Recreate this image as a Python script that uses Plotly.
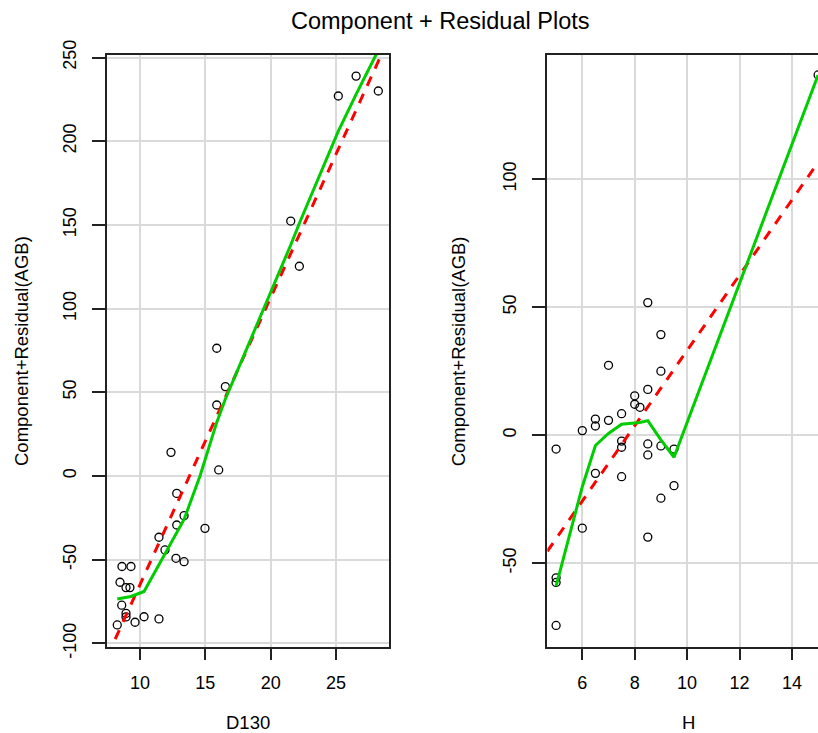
import plotly.graph_objects as go

# ---------------- data ----------------
D130 = [15.87, 16.53, 15.87, 12.37, 16.02, 12.81, 13.37, 12.81, 14.97, 11.45,
        11.91, 12.75, 13.37, 8.62, 9.31, 8.47, 8.93, 9.23, 8.60, 8.93,
        8.93, 10.31, 11.45, 9.62, 8.26, 26.53, 25.17, 28.23, 21.53, 22.19]
CR_D130 = [76.3, 53.4, 42.4, 14.1, 3.6, -10.4, -23.7, -29.3, -31.3, -36.6,
           -44.2, -49.2, -51.2, -54.1, -54.1, -63.5, -66.7, -66.7, -77.2, -82.1,
           -84.2, -84.1, -85.4, -87.4, -89.0, 238.9, 227.0, 230.0, 152.3, 125.3]

H = [5, 5, 5, 5, 6, 6, 6.5, 6.5, 6.5, 7, 7, 7.5, 7.5, 7.5, 7.5,
     8, 8, 8.2, 8.5, 8.5, 8.5, 8.5, 8.5, 9, 9, 9, 9, 9.5, 9.5, 15]
CR_H = [-5.4, -55.7, -57.5, -74.3, 1.8, -36.3, 6.3, 3.6, -14.9, 27.3, 5.8,
        8.4, -2.3, -4.7, -16.2, 15.4, 12.1, 10.9, 51.8, 17.9, -3.4, -7.7, -39.8,
        39.3, 25.0, -4.2, -24.6, -5.4, -19.7, 140.7]

# linear component (slope, intercept) - red dashed
FIT_D130 = (17.15, -236.4)
FIT_H = (14.7, -113.9)

# lowess smooth - green
SMOOTH_D130_X = [8.26, 9.3, 10.31, 12.0, 13.37, 14.59, 15.87, 16.53, 19.5, 21.53, 22.19, 25.17, 26.53, 28.27]
SMOOTH_D130_Y = [-73.5, -72.0, -69.0, -45.0, -26.0, 0.0, 32.0, 46.0, 100.0, 138.0, 151.0, 206.0, 228.0, 255.0]
SMOOTH_H_X = [5, 6, 6.5, 7, 7.5, 8, 8.2, 8.5, 9, 9.5, 15]
SMOOTH_H_Y = [-58.9, -20.1, -4.0, 0.7, 4.3, 4.6, 5.0, 5.7, -1.8, -8.6, 140.7]

TICKS_D130 = [10, 15, 20, 25]
TICKS_Y1 = [-100, -50, 0, 50, 100, 150, 200, 250]
TICKS_H = [6, 8, 10, 12, 14]
TICKS_Y2 = [-50, 0, 50, 100]

TITLE = "Component + Residual Plots"
YLAB = "Component+Residual(AGB)"

# ---------------- layout geometry ----------------
W, HT = 818, 733
FONT = "Liberation Sans, Arial, sans-serif"
X1_RANGE = [7.498, 29.07]
Y1_RANGE = [-102.0, 251.5]
X2_RANGE = [4.664, 14.996]
Y2_RANGE = [-82.6, 148.5]

def fx(p):
    return p / W

def fy(p):
    return 1 - p / HT

def labels(vals):
    return [str(v) for v in vals]

fig = go.Figure()

marker = dict(symbol="circle-open", size=8, color="black", line=dict(width=1.3, color="black"))

# panel 1
fig.add_trace(go.Scatter(x=D130, y=CR_D130, mode="markers", xaxis="x", yaxis="y",
                         marker=marker, showlegend=False, hoverinfo="skip"))
lx = list(X1_RANGE)
fig.add_trace(go.Scatter(x=lx, y=[FIT_D130[0] * v + FIT_D130[1] for v in lx], mode="lines",
                         xaxis="x", yaxis="y",
                         line=dict(color="#ff0000", width=3, dash="10px,9px"),
                         showlegend=False, hoverinfo="skip"))
fig.add_trace(go.Scatter(x=SMOOTH_D130_X, y=SMOOTH_D130_Y, mode="lines", xaxis="x", yaxis="y",
                         line=dict(color="#00cd00", width=3),
                         showlegend=False, hoverinfo="skip"))

# panel 2
fig.add_trace(go.Scatter(x=H, y=CR_H, mode="markers", xaxis="x2", yaxis="y2",
                         marker=marker, showlegend=False, hoverinfo="skip"))
lx2 = list(X2_RANGE)
fig.add_trace(go.Scatter(x=lx2, y=[FIT_H[0] * v + FIT_H[1] for v in lx2], mode="lines",
                         xaxis="x2", yaxis="y2",
                         line=dict(color="#ff0000", width=3, dash="10px,9px"),
                         showlegend=False, hoverinfo="skip"))
fig.add_trace(go.Scatter(x=SMOOTH_H_X, y=SMOOTH_H_Y, mode="lines", xaxis="x2", yaxis="y2",
                         line=dict(color="#00cd00", width=3),
                         showlegend=False, hoverinfo="skip"))

common = dict(showgrid=True, gridcolor="#dadada", gridwidth=1.5, zeroline=False,
              showline=True, linecolor="#222222", linewidth=1.6, automargin=False,
              ticks="outside", tickcolor="#222222", tickwidth=1.5,
              tickfont=dict(family=FONT, size=18, color="black"))

ydom = [fy(646.7), fy(55)]
fig.update_layout(
    template="none",
    width=W, height=HT,
    margin=dict(l=0, r=0, t=0, b=0, pad=0),
    paper_bgcolor="white", plot_bgcolor="white",
    font=dict(family=FONT, color="black"),
    xaxis=dict(domain=[fx(107.3), fx(389.3)], range=X1_RANGE, tickvals=TICKS_D130,
               ticktext=labels(TICKS_D130),
               anchor="y", mirror=True, ticklen=11, ticklabelstandoff=8, **common),
    yaxis=dict(domain=ydom, range=Y1_RANGE, tickvals=TICKS_Y1, ticktext=labels(TICKS_Y1),
               anchor="x", mirror=True, ticklen=14, tickangle=-90, ticklabelstandoff=8, **common),
    xaxis2=dict(domain=[fx(547.3), 1.0], range=X2_RANGE, tickvals=TICKS_H,
                ticktext=labels(TICKS_H),
                anchor="y2", mirror=True, ticklen=11, ticklabelstandoff=8, **common),
    yaxis2=dict(domain=ydom, range=Y2_RANGE, tickvals=TICKS_Y2, ticktext=labels(TICKS_Y2),
                anchor="x2", mirror=False, ticklen=14, tickangle=-90, ticklabelstandoff=8, **common),
)

annos = [
    dict(text=TITLE, x=fx(440), y=fy(21), font=dict(size=23.5)),
    dict(text="D130", x=fx(248.3), y=fy(722), font=dict(size=18.5)),
    dict(text="H", x=fx(688), y=fy(722), font=dict(size=18.5)),
    dict(text=YLAB, x=fx(21), y=fy(351), textangle=-90, font=dict(size=18.5)),
    dict(text=YLAB, x=fx(458.3), y=fy(351), textangle=-90, font=dict(size=18.5)),
]
for a in annos:
    fig.add_annotation(xref="paper", yref="paper", xanchor="center", yanchor="middle",
                       showarrow=False, **a)

fig.write_html(
    "out.html",
    config={"displayModeBar": False},
    post_script="document.body.style.margin='0';document.body.style.overflow='hidden';"
                "document.documentElement.style.overflow='hidden';",
)
